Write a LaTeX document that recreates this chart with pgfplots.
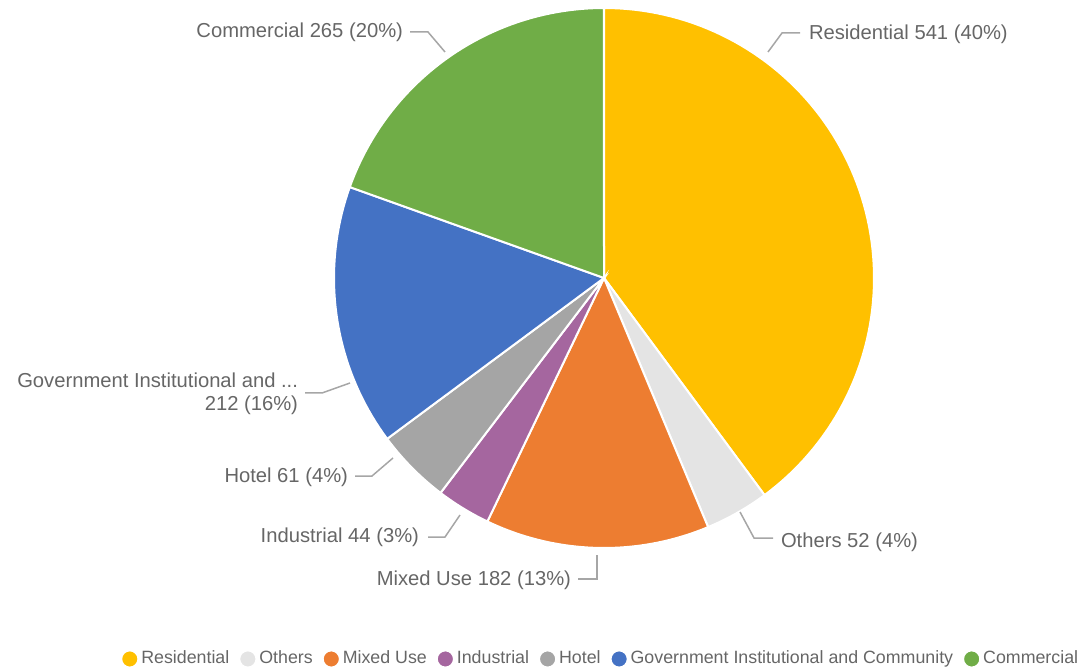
\documentclass[border=0pt]{standalone}
\usepackage{pgfplots}
\pgfplotsset{compat=1.18}
\usepackage{fontspec}
\setmainfont{Liberation Sans}
\definecolor{cRes}{HTML}{FFC000}
\definecolor{cOth}{HTML}{E4E4E4}
\definecolor{cMix}{HTML}{ED7D31}
\definecolor{cInd}{HTML}{A5669F}
\definecolor{cHot}{HTML}{A5A5A5}
\definecolor{cGov}{HTML}{4472C4}
\definecolor{cCom}{HTML}{70AD47}
\definecolor{txt}{HTML}{666666}
\definecolor{lead}{HTML}{A6A6A6}
% values
\def\vRes{541}\def\vOth{52}\def\vMix{182}\def\vInd{44}\def\vHot{61}\def\vGov{212}\def\vCom{265}
\pgfmathsetmacro{\tot}{\vRes+\vOth+\vMix+\vInd+\vHot+\vGov+\vCom}
\pgfmathsetmacro{\aA}{90}
\pgfmathsetmacro{\aB}{\aA-\vRes/\tot*360}
\pgfmathsetmacro{\aC}{\aB-\vOth/\tot*360}
\pgfmathsetmacro{\aD}{\aC-\vMix/\tot*360}
\pgfmathsetmacro{\aE}{\aD-\vInd/\tot*360}
\pgfmathsetmacro{\aF}{\aE-\vHot/\tot*360}
\pgfmathsetmacro{\aG}{\aF-\vGov/\tot*360}
\pgfmathsetmacro{\aH}{\aG-\vCom/\tot*360}
\tikzset{lab/.style={font=\fontsize{10.1bp}{11.5bp}\selectfont, text=txt, inner sep=0pt, outer sep=0pt}}
\begin{document}
\begin{tikzpicture}
\begin{axis}[
  x=0.5bp, y=0.5bp, xmin=0, xmax=1079, ymin=0, ymax=668,
  hide axis, clip=false, scale only axis,
  legend columns=-1,
  legend image code/.code={\path[use as bounding box] (-3.75bp,-3.75bp) rectangle (3.75bp,3.75bp); \fill (0bp,0bp) circle (4.3bp);},
  legend style={draw=none, fill=none, at={(0.5558,0.0135)}, anchor=center,
    font=\fontsize{8.9bp}{11bp}\selectfont, text=txt,
    nodes={inner sep=0pt},
    /tikz/every odd column/.append style={column sep=1.5bp},
    /tikz/every even column/.append style={column sep=5.0bp}},
]
\addplot[fill=cRes, draw=white, line width=1bp, domain=\aB:\aA, samples=90, variable=\t] ({604+270*cos(\t)},{390+270*sin(\t)}) -- (axis cs:604,390) -- cycle;
\addlegendentry{Residential}
\addplot[fill=cOth, draw=white, line width=1bp, domain=\aC:\aB, samples=20, variable=\t] ({604+270*cos(\t)},{390+270*sin(\t)}) -- (axis cs:604,390) -- cycle;
\addlegendentry{Others}
\addplot[fill=cMix, draw=white, line width=1bp, domain=\aD:\aC, samples=40, variable=\t] ({604+270*cos(\t)},{390+270*sin(\t)}) -- (axis cs:604,390) -- cycle;
\addlegendentry{Mixed Use}
\addplot[fill=cInd, draw=white, line width=1bp, domain=\aE:\aD, samples=20, variable=\t] ({604+270*cos(\t)},{390+270*sin(\t)}) -- (axis cs:604,390) -- cycle;
\addlegendentry{Industrial}
\addplot[fill=cHot, draw=white, line width=1bp, domain=\aF:\aE, samples=20, variable=\t] ({604+270*cos(\t)},{390+270*sin(\t)}) -- (axis cs:604,390) -- cycle;
\addlegendentry{Hotel}
\addplot[fill=cGov, draw=white, line width=1bp, domain=\aG:\aF, samples=40, variable=\t] ({604+270*cos(\t)},{390+270*sin(\t)}) -- (axis cs:604,390) -- cycle;
\addlegendentry{Government Institutional and Community}
\addplot[fill=cCom, draw=white, line width=1bp, domain=\aH:\aG, samples=50, variable=\t] ({604+270*cos(\t)},{390+270*sin(\t)}) -- (axis cs:604,390) -- cycle;
\addlegendentry{Commercial}
% leader lines
\draw[lead, line width=0.75bp] (axis cs:768,616) -- (axis cs:782,635) -- (axis cs:800,635);
\draw[lead, line width=0.75bp] (axis cs:410,636) -- (axis cs:428,636) -- (axis cs:445,616);
\draw[lead, line width=0.75bp] (axis cs:305,275) -- (axis cs:322,275) -- (axis cs:350,285);
\draw[lead, line width=0.75bp] (axis cs:355,192) -- (axis cs:372,192) -- (axis cs:393,210);
\draw[lead, line width=0.75bp] (axis cs:428,131) -- (axis cs:445,131) -- (axis cs:460,153);
\draw[lead, line width=0.75bp] (axis cs:578,89) -- (axis cs:597,89) -- (axis cs:597,113);
\draw[lead, line width=0.75bp] (axis cs:740,156) -- (axis cs:754,130) -- (axis cs:773,130);
% labels
\node[lab, anchor=west] at (axis cs:809,634) {Residential 541 (40\%)};
\node[lab, anchor=east] at (axis cs:403,636) {Commercial 265 (20\%)};
\node[lab, anchor=east, align=right] at (axis cs:298,274) {Government Institutional and ...\\212 (16\%)};
\node[lab, anchor=east] at (axis cs:348,191) {Hotel 61 (4\%)};
\node[lab, anchor=east] at (axis cs:419,131) {Industrial 44 (3\%)};
\node[lab, anchor=east] at (axis cs:571,88) {Mixed Use 182 (13\%)};
\node[lab, anchor=west] at (axis cs:781,126) {Others 52 (4\%)};
\end{axis}
\pgfresetboundingbox
\path (current axis.south west) rectangle (current axis.north east);
\end{tikzpicture}
\end{document}
